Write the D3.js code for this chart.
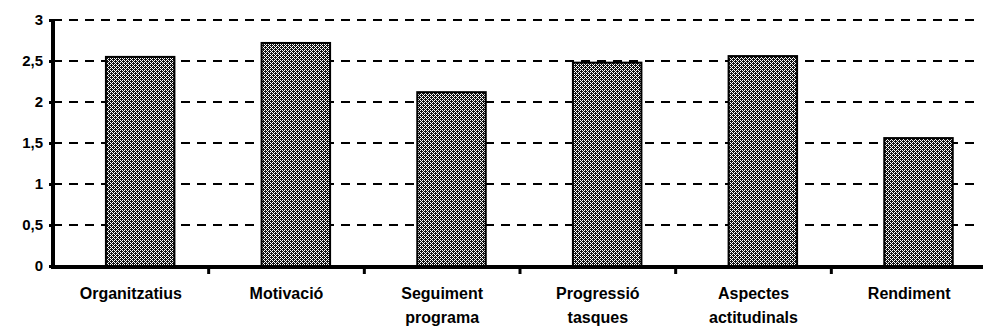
<!DOCTYPE html>
<html>
<head>
<meta charset="utf-8">
<script src="https://cdn.jsdelivr.net/npm/d3@7"></script>
<style>
  body { margin: 0; background: #fff; overflow: hidden; }
  svg { display: block; }
  text { font-family: "Liberation Sans", Arial, sans-serif; font-weight: bold; fill: #000; }
</style>
</head>
<body>
<div id="chart"></div>
<script>
// data
var categories = ["Organitzatius", "Motivació", "Seguiment programa", "Progressió tasques", "Aspectes actitudinals", "Rendiment"];
var labelLines = [["Organitzatius"], ["Motivació"], ["Seguiment", "programa"], ["Progressió", "tasques"], ["Aspectes", "actitudinals"], ["Rendiment"]];
var values = [2.55, 2.72, 2.12, 2.48, 2.56, 1.56];
var yTicks = [0, 0.5, 1, 1.5, 2, 2.5, 3];
var yTickLabels = ["0", "0,5", "1", "1,5", "2", "2,5", "3"];

var w = 983, h = 334;
var margin = { top: 20, right: 0, bottom: 68, left: 53 };
var innerHeight = h - margin.top - margin.bottom;

var svg = d3.select("#chart").append("svg")
  .attr("width", w)
  .attr("height", h);

// grey dotted fill like the print
var defs = svg.append("defs");
var pat = defs.append("pattern")
  .attr("id", "dots")
  .attr("width", 4).attr("height", 4)
  .attr("patternUnits", "userSpaceOnUse");
pat.append("rect").attr("width", 4).attr("height", 4).attr("fill", "#fff");
[[0, 0], [2, 0], [1, 1], [3, 1], [0, 2], [2, 2], [1, 3], [3, 3], [0, 3], [2, 1]].forEach(function(p) {
  pat.append("rect").attr("x", p[0]).attr("y", p[1]).attr("width", 1).attr("height", 1).attr("fill", "#111");
});

var g = svg.append("g").attr("transform", "translate(" + margin.left + "," + margin.top + ")");

var xScale = d3.scaleBand()
  .domain(categories)
  .range([0, 934]);

var yScale = d3.scaleLinear()
  .domain([0, 3])
  .range([innerHeight, 0]);

// dashed gridlines
g.selectAll(".grid")
  .data(yTicks.filter(d => d > 0))
  .enter().append("line")
  .attr("class", "grid")
  .attr("x1", 0)
  .attr("x2", 925)
  .attr("y1", d => yScale(d))
  .attr("y2", d => yScale(d))
  .attr("stroke", "#000")
  .attr("stroke-width", 2)
  .attr("stroke-dasharray", "9,7");

// bars (sit a bit right of the band centre, as in the original)
var bw = xScale.bandwidth();
g.selectAll(".bar")
  .data(values)
  .enter().append("rect")
  .attr("class", "bar")
  .attr("x", (d, i) => xScale(categories[i]) + bw * 0.34)
  .attr("y", d => yScale(d))
  .attr("width", bw * 0.44)
  .attr("height", d => innerHeight - yScale(d))
  .attr("fill", "url(#dots)")
  .attr("stroke", "#000")
  .attr("stroke-width", 2);

// y axis
var yAxis = d3.axisLeft(yScale)
  .tickValues(yTicks)
  .tickFormat((d, i) => yTickLabels[i])
  .tickSize(4)
  .tickPadding(6);

var ya = g.append("g").call(yAxis);
ya.select(".domain").attr("stroke-width", 4).attr("d", "M0," + (innerHeight + 2) + "V0");
ya.selectAll(".tick line").attr("stroke-width", 3);
ya.selectAll(".tick text").style("font-size", "15px").style("font-family", "Liberation Sans, Arial, sans-serif").style("font-weight", "bold");

// x axis with ticks between categories
var boundaries = categories.slice(1).map(c => xScale(c));
g.append("line")
  .attr("x1", -2).attr("x2", w - margin.left)
  .attr("y1", innerHeight + 1).attr("y2", innerHeight + 1)
  .attr("stroke", "#000").attr("stroke-width", 4);
g.selectAll(".xtick")
  .data(boundaries)
  .enter().append("line")
  .attr("x1", d => d).attr("x2", d => d)
  .attr("y1", innerHeight).attr("y2", innerHeight + 8)
  .attr("stroke", "#000").attr("stroke-width", 3);

// category labels, one text per line
labelLines.forEach(function(lines, i) {
  lines.forEach(function(line, j) {
    g.append("text")
      .attr("class", "xlabel")
      .attr("text-anchor", "middle")
      .attr("x", xScale(categories[i]) + bw / 2)
      .attr("y", innerHeight + 33 + j * 24)
      .style("font-size", "16px")
      .text(line);
  });
});
</script>
</body>
</html>
